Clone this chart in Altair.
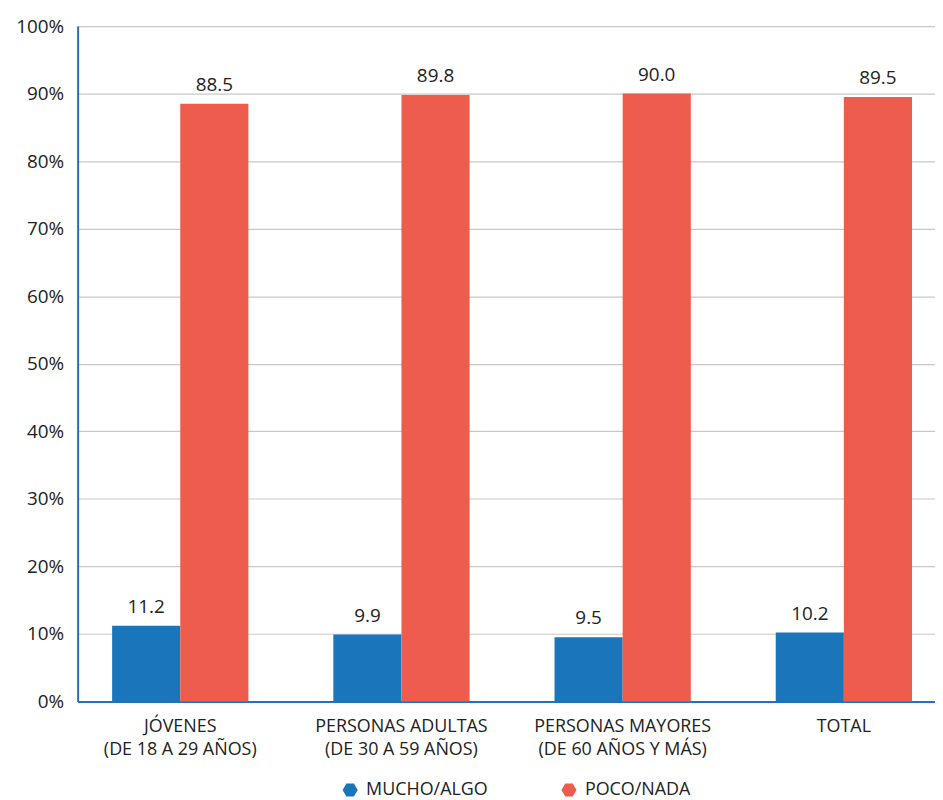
import altair as alt
import pandas as pd

categories = ["JÓVENES\n(DE 18 A 29 AÑOS)", "PERSONAS ADULTAS\n(DE 30 A 59 AÑOS)",
              "PERSONAS MAYORES\n(DE 60 AÑOS Y MÁS)", "TOTAL"]
series = ["MUCHO/ALGO", "POCO/NADA"]
mucho_algo = [11.2, 9.9, 9.5, 10.2]
poco_nada = [88.5, 89.8, 90.0, 89.5]
colors = ["#1a75bb", "#ee5c4d"]
y_ticks = [0, 10, 20, 30, 40, 50, 60, 70, 80, 90, 100]

rows = []
for c, a, b in zip(categories, mucho_algo, poco_nada):
    rows.append({"cat": c, "serie": series[0], "value": a})
    rows.append({"cat": c, "serie": series[1], "value": b})
df = pd.DataFrame(rows)

FONT = "Open Sans"
hexagon = "M-1,0L-0.5,-0.866L0.5,-0.866L1,0L0.5,0.866L-0.5,0.866Z"

x = alt.X("cat:N", sort=categories, title=None,
          scale=alt.Scale(paddingInner=0.384, paddingOuter=0.13, align=0.6),
          axis=alt.Axis(labelAngle=0, labelExpr="split(datum.label, '\\n')",
                        labelFontSize=18, labelColor="#222222", labelFont=FONT,
                        labelPadding=16, labelLineHeight=23, labelLimit=0, ticks=False,
                        domainColor="#1a75bb", domainWidth=2, grid=False))
y = alt.Y("value:Q", title=None,
          scale=alt.Scale(domain=[0, 100], nice=False),
          axis=alt.Axis(values=y_ticks, labelExpr="datum.value + '%'",
                        labelFontSize=19, labelColor="#222222", labelFont=FONT,
                        labelPadding=14, ticks=False, domainColor="#1a75bb",
                        domainWidth=2, grid=True, gridColor="#c8c8c8", gridWidth=1.2))
xoff = alt.XOffset("serie:N", sort=series)
color = alt.Color("serie:N", sort=series,
                  scale=alt.Scale(domain=series, range=colors),
                  legend=alt.Legend(title=None, orient="none", direction="horizontal",
                                    legendX=265, legendY=759, symbolType=hexagon,
                                    symbolSize=230, labelFontSize=18, labelFont=FONT,
                                    labelColor="#222222", columnPadding=72, labelLimit=0,
                                    symbolStrokeWidth=0, labelOffset=7))

bars = alt.Chart(df).mark_bar().encode(x=x, y=y, xOffset=xoff, color=color)
labels = alt.Chart(df).mark_text(baseline="bottom", dy=-9, fontSize=19, font=FONT,
                                 color="#222222").encode(
    x=x, y=y, xOffset=xoff, text=alt.Text("value:Q", format=".1f"))

chart = (bars + labels).properties(
    width=862, height=679, autosize="none",
    padding={"left": 70, "top": 16, "right": 0, "bottom": 96},
).configure_view(stroke=None)

chart.save("out.html", embed_options={"renderer": "svg", "actions": False})
